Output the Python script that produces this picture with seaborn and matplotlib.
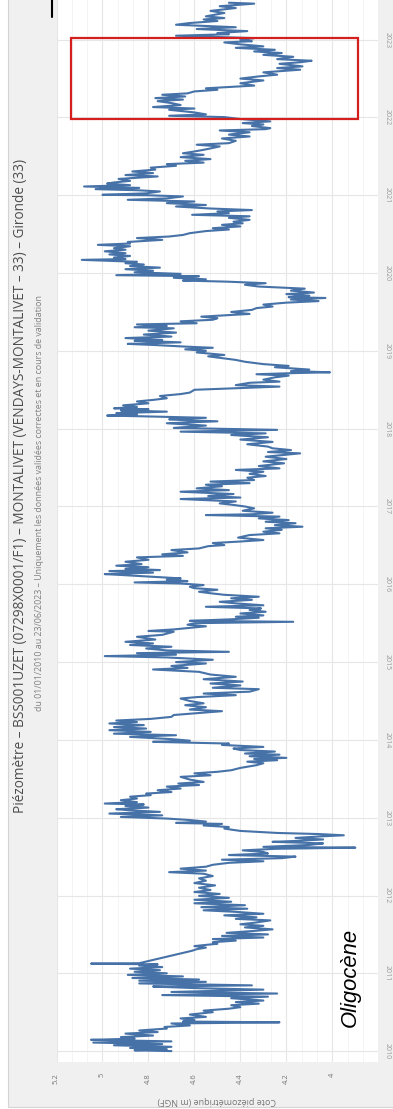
import numpy as np
import pandas as pd
import matplotlib
matplotlib.use("Agg")
import matplotlib.pyplot as plt
from matplotlib.patches import Rectangle
from matplotlib.lines import Line2D
from matplotlib.ticker import AutoMinorLocator
import seaborn as sns

# Piezometric level (m NGF), as (decimal year, level)
releve_2010_2012 = [
    (2010.000, 4.70), (2010.010, 4.86), (2010.025, 4.72), (2010.040, 4.88), (2010.055, 4.70),
    (2010.075, 4.95), (2010.090, 4.74), (2010.110, 5.04), (2010.125, 4.70), (2010.145, 5.05),
    (2010.160, 4.86), (2010.180, 4.92), (2010.200, 4.78), (2010.225, 4.90), (2010.245, 4.76),
    (2010.265, 4.84), (2010.290, 4.72), (2010.310, 4.73), (2010.330, 4.62), (2010.355, 4.70),
    (2010.370, 4.23), (2010.380, 4.65), (2010.400, 4.60), (2010.420, 4.66), (2010.440, 4.55),
    (2010.470, 4.62), (2010.500, 4.52), (2010.520, 4.56), (2010.545, 4.45), (2010.565, 4.40),
    (2010.590, 4.44), (2010.610, 4.32), (2010.630, 4.42), (2010.650, 4.30), (2010.680, 4.44),
    (2010.700, 4.28), (2010.720, 4.74), (2010.740, 4.24), (2010.760, 4.70), (2010.790, 4.30),
    (2010.810, 4.60), (2010.830, 4.78), (2010.845, 4.35), (2010.870, 4.84), (2010.890, 4.55),
    (2010.905, 4.84), (2010.920, 4.58), (2010.940, 4.87), (2010.960, 4.65), (2010.980, 4.89),
    (2011.000, 4.72), (2011.020, 4.86), (2011.040, 4.75), (2011.060, 4.88), (2011.080, 4.74),
    (2011.100, 4.84), (2011.115, 4.76), (2011.124, 5.05), (2011.130, 4.84), (2011.290, 4.61),
    (2011.310, 4.59), (2011.330, 4.55), (2011.350, 4.60), (2011.380, 4.50), (2011.400, 4.52),
    (2011.420, 4.42), (2011.440, 4.52), (2011.460, 4.30), (2011.480, 4.48), (2011.500, 4.28),
    (2011.520, 4.46), (2011.545, 4.34), (2011.565, 4.26), (2011.590, 4.38), (2011.610, 4.30),
    (2011.630, 4.40), (2011.650, 4.34), (2011.680, 4.27), (2011.700, 4.42), (2011.720, 4.33),
    (2011.745, 4.47), (2011.765, 4.30), (2011.790, 4.42), (2011.810, 4.56), (2011.830, 4.37),
    (2011.850, 4.57), (2011.875, 4.38), (2011.900, 4.60), (2011.920, 4.44), (2011.945, 4.60),
    (2011.970, 4.45), (2011.995, 4.58), (2012.020, 4.49), (2012.045, 4.60), (2012.070, 4.53),
    (2012.100, 4.58), (2012.130, 4.51), (2012.160, 4.60), (2012.190, 4.55), (2012.220, 4.58),
    (2012.250, 4.52), (2012.280, 4.56), (2012.300, 4.71), (2012.320, 4.55), (2012.345, 4.66),
    (2012.370, 4.55), (2012.395, 4.52), (2012.420, 4.45), (2012.440, 4.30), (2012.460, 4.48),
    (2012.480, 4.22), (2012.500, 4.16), (2012.520, 4.45), (2012.540, 4.28), (2012.560, 4.30),
    (2012.580, 4.39), (2012.600, 4.25), (2012.615, 3.90), (2012.625, 4.30), (2012.650, 4.10),
    (2012.670, 4.04), (2012.690, 4.26),
]

releve_2012_2015 = [
    (2012.700, 4.17), (2012.720, 4.04), (2012.740, 4.16), (2012.760, 4.05), (2012.774, 3.95),
    (2012.790, 4.06), (2012.804, 4.24), (2012.830, 4.40), (2012.860, 4.47), (2012.880, 4.45),
    (2012.900, 4.56), (2012.920, 4.48), (2012.933, 4.68), (2012.950, 4.55), (2012.970, 4.62),
    (2012.989, 4.72), (2013.010, 4.92), (2013.030, 4.74), (2013.053, 4.97), (2013.075, 4.75),
    (2013.095, 4.88), (2013.109, 4.94), (2013.130, 4.80), (2013.150, 4.90), (2013.170, 4.82),
    (2013.182, 4.99), (2013.200, 4.85), (2013.225, 4.92), (2013.246, 4.85), (2013.270, 4.88),
    (2013.290, 4.79), (2013.310, 4.81), (2013.330, 4.70), (2013.353, 4.76), (2013.375, 4.66),
    (2013.400, 4.72), (2013.420, 4.58), (2013.439, 4.67), (2013.460, 4.56), (2013.490, 4.62),
    (2013.525, 4.66), (2013.545, 4.53), (2013.570, 4.60), (2013.590, 4.50), (2013.610, 4.44),
    (2013.640, 4.40), (2013.660, 4.36), (2013.675, 4.33), (2013.700, 4.30), (2013.720, 4.37),
    (2013.739, 4.24), (2013.755, 4.34), (2013.769, 4.20), (2013.790, 4.36), (2013.810, 4.23),
    (2013.825, 4.38), (2013.850, 4.25), (2013.870, 4.40), (2013.889, 4.43), (2013.910, 4.30),
    (2013.935, 4.48), (2013.953, 4.45), (2013.975, 4.78), (2013.990, 4.62), (2014.010, 4.70),
    (2014.039, 4.88), (2014.060, 4.68), (2014.080, 4.95), (2014.103, 4.79), (2014.125, 4.97),
    (2014.146, 4.81), (2014.165, 4.95), (2014.190, 4.82), (2014.211, 4.97), (2014.230, 4.85),
    (2014.249, 4.94), (2014.270, 4.79), (2014.296, 4.70), (2014.320, 4.69), (2014.345, 4.58),
    (2014.369, 4.48), (2014.390, 4.62), (2014.420, 4.55), (2014.446, 4.64), (2014.470, 4.56),
    (2014.500, 4.62), (2014.532, 4.66), (2014.550, 4.59), (2014.575, 4.42), (2014.596, 4.56),
    (2014.620, 4.36), (2014.652, 4.32), (2014.670, 4.52), (2014.700, 4.40), (2014.725, 4.53),
    (2014.750, 4.39), (2014.780, 4.56), (2014.811, 4.42), (2014.840, 4.53), (2014.875, 4.58),
    (2014.905, 4.78), (2014.925, 4.63), (2014.950, 4.70), (2014.982, 4.55), (2015.000, 4.68),
    (2015.030, 4.52), (2015.060, 4.72), (2015.077, 4.99), (2015.095, 4.68), (2015.115, 4.85),
    (2015.132, 4.45), (2015.150, 4.72), (2015.175, 4.81), (2015.197, 4.70), (2015.220, 4.88),
    (2015.240, 4.78), (2015.261, 4.90), (2015.290, 4.77), (2015.325, 4.85), (2015.350, 4.74),
    (2015.390, 4.69),
]

releve_2015_2018 = [
    (2015.400, 4.80), (2015.420, 4.69), (2015.440, 4.62), (2015.460, 4.55), (2015.480, 4.63),
    (2015.500, 4.60), (2015.518, 4.17), (2015.530, 4.62), (2015.550, 4.44), (2015.570, 4.32),
    (2015.583, 4.42), (2015.600, 4.30), (2015.625, 4.40), (2015.647, 4.29), (2015.670, 4.36),
    (2015.690, 4.31), (2015.711, 4.55), (2015.730, 4.30), (2015.755, 4.42), (2015.775, 4.49),
    (2015.800, 4.35), (2015.820, 4.44), (2015.840, 4.32), (2015.865, 4.47), (2015.885, 4.53),
    (2015.904, 4.58), (2015.930, 4.50), (2015.950, 4.60), (2015.968, 4.62), (2015.990, 4.56),
    (2016.010, 4.66), (2016.024, 4.86), (2016.040, 4.63), (2016.060, 4.72), (2016.076, 4.66),
    (2016.100, 4.80), (2016.120, 4.92), (2016.131, 4.99), (2016.150, 4.78), (2016.170, 4.97),
    (2016.183, 4.75), (2016.200, 4.90), (2016.220, 4.80), (2016.239, 4.94), (2016.260, 4.83),
    (2016.290, 4.90), (2016.315, 4.80), (2016.346, 4.85), (2016.365, 4.65), (2016.385, 4.74),
    (2016.410, 4.63), (2016.440, 4.70), (2016.461, 4.58), (2016.490, 4.54), (2016.504, 4.47),
    (2016.530, 4.52), (2016.550, 4.40), (2016.569, 4.30), (2016.600, 4.41), (2016.633, 4.36),
    (2016.655, 4.23), (2016.676, 4.30), (2016.700, 4.22), (2016.720, 4.29), (2016.740, 4.13),
    (2016.760, 4.25), (2016.785, 4.16), (2016.804, 4.29), (2016.825, 4.19), (2016.847, 4.32),
    (2016.870, 4.23), (2016.890, 4.55), (2016.900, 4.35), (2016.920, 4.26), (2016.945, 4.39),
    (2016.976, 4.34), (2017.000, 4.38), (2017.020, 4.43), (2017.040, 4.49), (2017.065, 4.42),
    (2017.096, 4.66), (2017.115, 4.40), (2017.135, 4.54), (2017.160, 4.43), (2017.190, 4.66),
    (2017.210, 4.45), (2017.233, 4.59), (2017.260, 4.48), (2017.280, 4.55), (2017.300, 4.36),
    (2017.320, 4.53), (2017.340, 4.34), (2017.370, 4.37), (2017.392, 4.29), (2017.420, 4.36),
    (2017.447, 4.30), (2017.470, 4.42), (2017.490, 4.23), (2017.520, 4.32), (2017.555, 4.21),
    (2017.580, 4.30), (2017.610, 4.20), (2017.640, 4.29), (2017.683, 4.14), (2017.700, 4.28),
    (2017.725, 4.18), (2017.748, 4.26), (2017.770, 4.28), (2017.800, 4.37), (2017.830, 4.26),
    (2017.860, 4.40), (2017.890, 4.28), (2017.919, 4.44), (2017.940, 4.29), (2017.962, 4.66),
    (2017.985, 4.24), (2018.010, 4.69), (2018.040, 4.55), (2018.070, 4.72), (2018.095, 4.50),
]

releve_2018_2020 = [
    (2018.110, 4.65), (2018.121, 4.71), (2018.140, 4.55), (2018.160, 4.84), (2018.168, 4.98),
    (2018.185, 4.85), (2018.200, 4.94), (2018.219, 4.72), (2018.235, 4.92), (2018.250, 4.80),
    (2018.262, 4.95), (2018.280, 4.85), (2018.300, 4.91), (2018.326, 4.80), (2018.350, 4.85),
    (2018.370, 4.78), (2018.391, 4.72), (2018.420, 4.75), (2018.445, 4.66), (2018.464, 4.62),
    (2018.500, 4.60), (2018.541, 4.23), (2018.560, 4.42), (2018.590, 4.36), (2018.605, 4.23),
    (2018.630, 4.30), (2018.660, 4.25), (2018.682, 4.19), (2018.700, 4.33), (2018.715, 4.16),
    (2018.725, 4.01), (2018.740, 4.18), (2018.760, 4.10), (2018.790, 4.25), (2018.807, 4.19),
    (2018.830, 4.30), (2018.860, 4.38), (2018.884, 4.42), (2018.910, 4.49), (2018.930, 4.54),
    (2018.948, 4.47), (2018.980, 4.59), (2019.000, 4.55), (2019.020, 4.64), (2019.040, 4.52),
    (2019.055, 4.64), (2019.075, 4.77), (2019.090, 4.89), (2019.110, 4.66), (2019.130, 4.86),
    (2019.141, 4.74), (2019.165, 4.90), (2019.184, 4.70), (2019.210, 4.82), (2019.235, 4.68),
    (2019.260, 4.80), (2019.290, 4.69), (2019.304, 4.86), (2019.320, 4.72), (2019.340, 4.85),
    (2019.355, 4.59), (2019.380, 4.66), (2019.400, 4.52), (2019.420, 4.50), (2019.440, 4.57),
    (2019.460, 4.45), (2019.475, 4.36), (2019.500, 4.44), (2019.527, 4.35), (2019.550, 4.33),
    (2019.570, 4.26), (2019.595, 4.30), (2019.620, 4.20), (2019.640, 4.06), (2019.660, 4.18),
    (2019.680, 4.03), (2019.690, 4.19), (2019.710, 4.10), (2019.730, 4.20), (2019.750, 4.08),
    (2019.775, 4.18), (2019.800, 4.12), (2019.827, 4.32), (2019.850, 4.38), (2019.870, 4.29),
    (2019.890, 4.46), (2019.904, 4.65), (2019.920, 4.55), (2019.940, 4.69), (2019.960, 4.58),
    (2019.973, 4.94), (2019.990, 4.66), (2020.010, 4.86), (2020.030, 4.78), (2020.050, 4.90),
    (2020.070, 4.75), (2020.090, 4.88), (2020.110, 4.82), (2020.127, 4.90), (2020.145, 4.85),
    (2020.170, 5.09), (2020.180, 4.90), (2020.200, 4.95), (2020.220, 4.88), (2020.240, 4.97),
    (2020.256, 4.90), (2020.280, 4.99), (2020.300, 4.90), (2020.320, 4.95), (2020.345, 4.88),
    (2020.363, 5.02), (2020.380, 4.88), (2020.400, 4.89), (2020.427, 4.74), (2020.450, 4.85),
    (2020.470, 4.71), (2020.490, 4.65), (2020.513, 4.62), (2020.540, 4.55), (2020.560, 4.45),
    (2020.577, 4.52), (2020.600, 4.40), (2020.620, 4.48), (2020.640, 4.39), (2020.660, 4.43),
    (2020.684, 4.36), (2020.710, 4.45), (2020.730, 4.36), (2020.749, 4.61), (2020.770, 4.45),
    (2020.792, 4.50),
]

releve_2020_2023 = [
    (2020.810, 4.35), (2020.830, 4.53), (2020.856, 4.68), (2020.875, 4.55), (2020.899, 4.72),
    (2020.920, 4.60), (2020.942, 4.89), (2020.960, 4.72), (2020.985, 4.65), (2021.000, 4.80),
    (2021.006, 5.00), (2021.025, 4.81), (2021.049, 4.75), (2021.065, 4.85), (2021.079, 5.03),
    (2021.095, 4.84), (2021.113, 5.08), (2021.130, 4.88), (2021.150, 4.98), (2021.165, 4.95),
    (2021.185, 4.88), (2021.210, 4.93), (2021.242, 4.76), (2021.260, 4.90), (2021.285, 4.78),
    (2021.306, 4.87), (2021.330, 4.77), (2021.355, 4.79), (2021.379, 4.68), (2021.400, 4.72),
    (2021.420, 4.56), (2021.443, 4.64), (2021.465, 4.53), (2021.490, 4.66), (2021.520, 4.56),
    (2021.540, 4.65), (2021.563, 4.60), (2021.590, 4.55), (2021.628, 4.49), (2021.650, 4.59),
    (2021.670, 4.45), (2021.700, 4.42), (2021.730, 4.48), (2021.756, 4.36), (2021.780, 4.45),
    (2021.810, 4.36), (2021.833, 4.49), (2021.850, 4.29), (2021.863, 4.27), (2021.890, 4.35),
    (2021.910, 4.30), (2021.928, 4.39), (2021.950, 4.27), (2021.980, 4.40), (2022.005, 4.47),
    (2022.022, 4.71), (2022.040, 4.55), (2022.065, 4.60), (2022.099, 4.71), (2022.115, 4.60),
    (2022.134, 4.78), (2022.160, 4.66), (2022.185, 4.70), (2022.210, 4.76), (2022.230, 4.65),
    (2022.249, 4.77), (2022.270, 4.64), (2022.292, 4.74), (2022.310, 4.63), (2022.335, 4.60),
    (2022.356, 4.50), (2022.375, 4.55), (2022.391, 4.45), (2022.410, 4.34), (2022.440, 4.40),
    (2022.476, 4.30), (2022.500, 4.40), (2022.528, 4.32), (2022.550, 4.24), (2022.580, 4.30),
    (2022.614, 4.14), (2022.635, 4.24), (2022.657, 4.13), (2022.690, 4.23), (2022.710, 4.14),
    (2022.729, 4.09), (2022.750, 4.24), (2022.780, 4.17), (2022.805, 4.30), (2022.828, 4.22),
    (2022.849, 4.34), (2022.870, 4.25), (2022.895, 4.42), (2022.914, 4.30), (2022.940, 4.40),
    (2022.965, 4.47), (2022.980, 4.35), (2022.999, 4.40), (2023.020, 4.34), (2023.051, 4.68),
    (2023.070, 4.45), (2023.085, 4.50), (2023.110, 4.37), (2023.137, 4.59), (2023.160, 4.42),
    (2023.192, 4.68), (2023.214, 4.62), (2023.240, 4.50), (2023.260, 4.56), (2023.278, 4.47),
    (2023.300, 4.55), (2023.343, 4.47), (2023.370, 4.53), (2023.407, 4.42), (2023.430, 4.49),
    (2023.463, 4.34), (2023.475, 4.45),
]

annees = list(range(2010, 2024))
cote_ticks = [5.2, 5.0, 4.8, 4.6, 4.4, 4.2, 4.0]
cote_labels = ["5.2", "5", "4.8", "4.6", "4.4", "4.2", "4"]

titre = ("Piézomètre – BSS001UZET (07298X0001/F1) – MONTALIVET "
         "(VENDAYS-MONTALIVET – 33) – Gironde (33)")
sous_titre = ("du 01/01/2010 au 23/06/2023 – Uniquement les données validées "
              "correctes et en cours de validation")
label_cote = "Cote piézométrique (m NGF)"
etiquette = "Oligocène"

# zoomed period highlighted in red (level range, date range)
zoom_cote = (5.138, 3.887)
zoom_dates = (2021.981, 2023.021)

df = pd.DataFrame(releve_2010_2012 + releve_2012_2015 + releve_2015_2018
                  + releve_2018_2020 + releve_2020_2023, columns=["annee", "cote"])

W, H = 393, 1109
sns.set_style("white")
plt.rcParams["font.family"] = ["Open Sans", "DejaVu Sans"]

fig = plt.figure(figsize=(W / 100, H / 100), dpi=100)
fig.patch.set_facecolor("white")

def fx(px):
    return px / W

def fy(py):
    return 1 - py / H

# grey page panel behind the chart
fig.patches.append(Rectangle((fx(8), fy(1107)), fx(W - 8) + 0.01, 1107 / H + 0.01,
                             transform=fig.transFigure, facecolor="#f0f0f0",
                             edgecolor="#d4d4d4", linewidth=0.8, zorder=-10))

ax = fig.add_axes([fx(56.5), fy(1062), fx(378.3 - 56.5), 1062 / H])
ax.set_zorder(1)
ax.set_facecolor("white")

sns.lineplot(data=df, x="cote", y="annee", sort=False, estimator=None, orient="y",
             color="#4672a8", linewidth=1.5, ax=ax)

ax.set_xlim(5.2, 3.8)
ax.set_ylim(2009.86, 2023.51)

ax.set_xticks(cote_ticks)
ax.set_xticklabels(cote_labels, rotation=90, fontsize=5.5, color="#777777")
ax.xaxis.set_minor_locator(AutoMinorLocator(3))
ax.set_yticks(annees)
ax.set_yticklabels([str(a) for a in annees], rotation=270, fontsize=5,
                   color="#999999", va="center")
ax.yaxis.tick_right()
ax.tick_params(axis="both", which="both", length=0)
ax.tick_params(axis="x", pad=8)
ax.tick_params(axis="y", pad=4)

ax.grid(True, which="major", color="#e6e6e6", linewidth=0.8)
ax.grid(True, which="minor", axis="x", color="#f3f3f3", linewidth=0.6)
ax.set_axisbelow(True)
for s in ax.spines.values():
    s.set_visible(False)
ax.set_xlabel("")
ax.set_ylabel("")

ax.add_patch(Rectangle((zoom_cote[0], zoom_dates[0]), zoom_cote[1] - zoom_cote[0],
                       zoom_dates[1] - zoom_dates[0], fill=False,
                       edgecolor="#d41f1f", linewidth=1.6, zorder=5))

t_titre = fig.text(fx(21), fy(486), titre, rotation=90, ha="center", va="center",
                   color="#4d4d4d", fontsize=8)
t_sous = fig.text(fx(40), fy(503), sous_titre, rotation=90, ha="center", va="center",
                  color="#808080", fontsize=5)
t_label = fig.text(fx(217), fy(1100), label_cote, rotation=180, ha="center",
                   va="center", color="#777777", fontsize=6)
t_oligo = fig.text(fx(350), fy(977), etiquette, rotation=90, ha="center", va="center",
                   color="black", fontsize=16, style="italic", zorder=10,
                   family=["Liberation Sans", "DejaVu Sans"])

# scale texts to the lengths they have in the picture
fig.canvas.draw()
rend = fig.canvas.get_renderer()
for t, longueur in [(t_titre, 657), (t_sous, 423), (t_label, 120), (t_oligo, 99)]:
    bb = t.get_window_extent(rend)
    cur = max(bb.width, bb.height)
    t.set_fontsize(t.get_fontsize() * longueur / cur)

# cursor mark in the top-left corner of the screenshot
fig.lines.append(Line2D([fx(51.7), fx(51.7)], [fy(17), 1.0], transform=fig.transFigure,
                        color="black", linewidth=1.5, zorder=10))

fig.savefig("out.png", dpi=100)
